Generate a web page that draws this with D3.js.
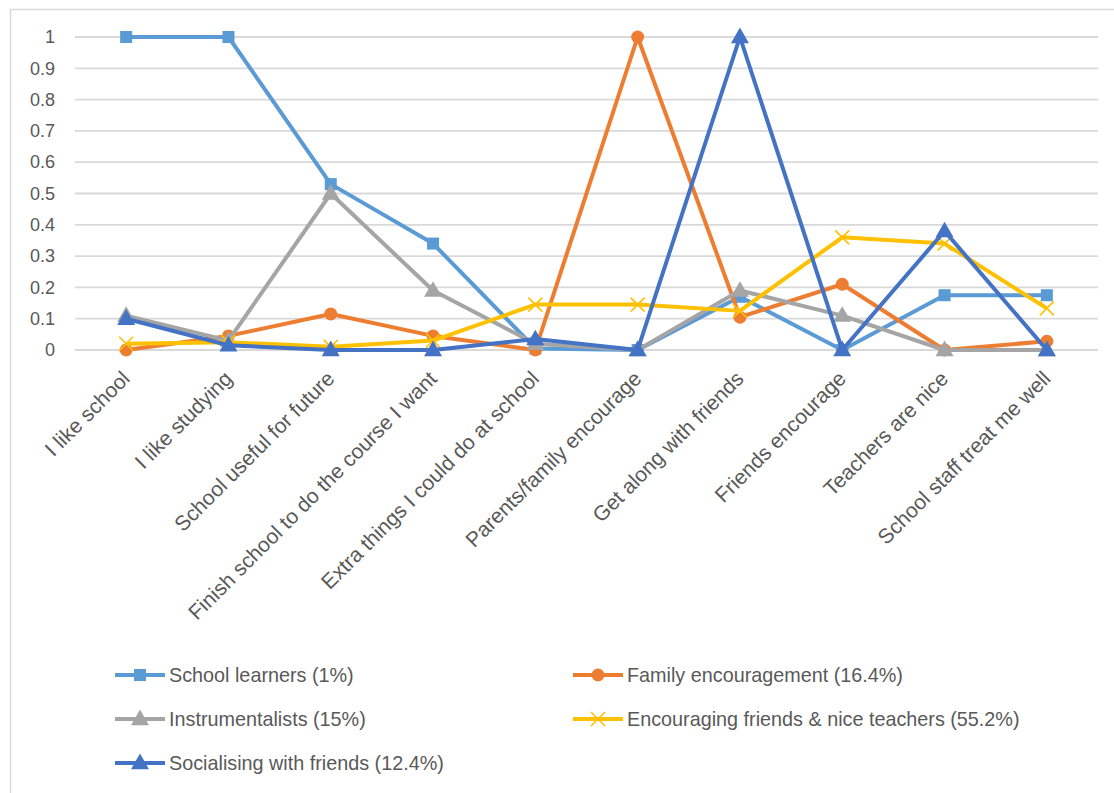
<!DOCTYPE html>
<html>
<head>
<meta charset="utf-8">
<script src="https://cdn.jsdelivr.net/npm/d3@7"></script>
<style>
html,body{margin:0;padding:0;background:#fff;}
svg{display:block;font-family:"Liberation Sans",Arial,sans-serif;}
</style>
</head>
<body>
<svg id="chart" width="1114" height="793"></svg>
<script>
const categories = ["I like school","I like studying","School useful for future","Finish school to do the course I want","Extra things I could do at school","Parents/family encourage","Get along with friends","Friends encourage","Teachers are nice","School staff treat me well"];
const seriesNames = ["School learners (1%)","Family encouragement (16.4%)","Instrumentalists (15%)","Encouraging friends & nice teachers (55.2%)","Socialising with friends (12.4%)"];
const schoolLearners = [1, 1, 0.53, 0.34, 0.005, 0, 0.17, 0, 0.175, 0.175];
const familyEncouragement = [0, 0.045, 0.115, 0.045, 0, 1, 0.105, 0.21, 0, 0.028];
const instrumentalists = [0.11, 0.03, 0.5, 0.19, 0.02, 0, 0.19, 0.11, 0, 0];
const encouragingFriends = [0.02, 0.025, 0.01, 0.03, 0.145, 0.145, 0.125, 0.36, 0.34, 0.133];
const socialising = [0.1, 0.015, 0, 0, 0.035, 0, 1, 0, 0.38, 0];
const yTicks = [0,0.1,0.2,0.3,0.4,0.5,0.6,0.7,0.8,0.9,1];
const colors = ["#5B9BD5","#ED7D31","#A5A5A5","#FFC000","#4472C4"];
const markers = ["square","circle","triangle","x","triangle"];

const series = seriesNames.map((n,i)=>({name:n,color:colors[i],marker:markers[i],
  values:[schoolLearners,familyEncouragement,instrumentalists,encouragingFriends,socialising][i]}));

const svg = d3.select("#chart");
// outer chart border (left/top visible)
svg.append("rect").attr("x",10.5).attr("y",9.5).attr("width",1200).attr("height",900)
  .attr("fill","none").attr("stroke","#d9d9d9").attr("stroke-width",1.5);

const x = d3.scaleBand().domain(categories).range([75,1098]);
const y = d3.scaleLinear().domain([0,1]).range([350,37]);

// gridlines
svg.append("g").selectAll("line").data(yTicks).join("line")
  .attr("x1",75).attr("x2",1098).attr("y1",d=>y(d)).attr("y2",d=>y(d))
  .attr("stroke","#d9d9d9").attr("stroke-width",1.8);

// y axis
const yAxis = svg.append("g").attr("transform","translate(75,0)")
  .call(d3.axisLeft(y).tickValues(yTicks).tickFormat(d=>String(d)).tickSize(0).tickPadding(20));
yAxis.select(".domain").remove();
yAxis.selectAll("text").attr("fill","#595959").style("font-size","18px").style("font-family","Liberation Sans, Arial, sans-serif");

// x axis labels
const xAxis = svg.append("g").attr("transform","translate(0,350)")
  .call(d3.axisBottom(x).tickSize(0).tickPadding(0));
xAxis.select(".domain").remove();
xAxis.selectAll("text")
  .attr("fill","#595959").style("font-size","21px").style("font-family","Liberation Sans, Arial, sans-serif")
  .attr("text-anchor","end").attr("dy","0")
  .attr("transform","translate(5,30) rotate(-45)");

const line = d3.line().x((d,i)=>x(categories[i])+x.bandwidth()/2).y(d=>y(d));

function drawMarker(g, type, color, cx, cy){
  if(type==="square"){
    g.append("rect").attr("x",cx-6).attr("y",cy-6).attr("width",12).attr("height",12).attr("fill",color);
  } else if(type==="circle"){
    g.append("circle").attr("cx",cx).attr("cy",cy).attr("r",6.5).attr("fill",color);
  } else if(type==="triangle"){
    g.append("path").attr("d",d3.symbol().type(d3.symbolTriangle).size(140)()).attr("transform",`translate(${cx},${cy+1})`).attr("fill",color);
  } else if(type==="x"){
    g.append("path").attr("d",`M${cx-7},${cy-7}L${cx+7},${cy+7}M${cx-7},${cy+7}L${cx+7},${cy-7}`).attr("stroke",color).attr("stroke-width",1.6).attr("fill","none");
  }
}

series.forEach(s=>{
  const g = svg.append("g");
  g.append("path").datum(s.values).attr("d",line).attr("fill","none").attr("stroke",s.color)
    .attr("stroke-width",4).attr("stroke-linejoin","round");
  s.values.forEach((v,i)=>drawMarker(g,s.marker,s.color,x(categories[i])+x.bandwidth()/2,y(v)));
});

// legend
const legendPos = [[115,675],[573,675],[115,719],[573,719],[115,763]];
series.forEach((s,i)=>{
  const [lx,ly] = legendPos[i];
  const g = svg.append("g");
  g.append("line").attr("x1",lx).attr("x2",lx+50).attr("y1",ly).attr("y2",ly).attr("stroke",s.color).attr("stroke-width",4);
  drawMarker(g,s.marker,s.color,lx+25,ly);
  g.append("text").attr("x",lx+54).attr("y",ly).attr("dy","0.35em").attr("fill","#595959")
    .style("font-size","19.8px").text(s.name);
});
</script>
</body>
</html>
